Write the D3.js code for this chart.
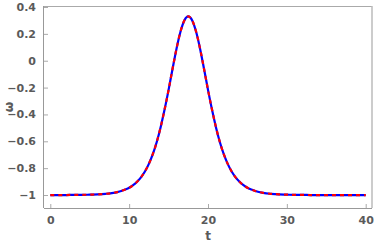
<!DOCTYPE html>
<html><head><meta charset="utf-8">
<script src="https://cdn.jsdelivr.net/npm/d3@7"></script>
<style>body{margin:0;background:#fff}svg{display:block}text{font-family:"DejaVu Sans",sans-serif}</style>
</head><body>
<script>
const tValues = [0,1,2,3,4,5,6,7,8,8.5,9,9.5,10,10.5,11,11.5,12,12.5,13,13.5,14,14.5,15,15.5,16,16.5,17,17.5,18,18.5,19,19.5,20,20.5,21,21.5,22,22.5,23,23.5,24,24.5,25,25.5,26,27,28,29,30,31,32,33,34,35,36,37,38,39,40];
const omegaValues = [-1.000,-1.000,-1.000,-0.999,-0.999,-0.997,-0.995,-0.991,-0.984,-0.978,-0.970,-0.959,-0.946,-0.927,-0.901,-0.868,-0.825,-0.768,-0.696,-0.605,-0.493,-0.362,-0.217,-0.062,0.088,0.214,0.300,0.330,0.300,0.214,0.088,-0.062,-0.217,-0.362,-0.493,-0.605,-0.696,-0.768,-0.825,-0.868,-0.901,-0.927,-0.946,-0.959,-0.970,-0.984,-0.991,-0.995,-0.997,-0.999,-0.999,-1.000,-1.000,-1.000,-1.000,-1.000,-1.000,-1.000,-1.000];
const xTicks = [0,10,20,30,40];
const yTicks = [0.4,0.2,0,-0.2,-0.4,-0.6,-0.8,-1];
const xLabel = "t";
const yLabel = "ω";

(function () {
const W = 374, H = 245;
const pL = 44, pR = 372, pT = 6, pB = 208;
const svg = d3.select("body").append("svg").attr("width", W).attr("height", H);
const x = d3.scaleLinear().domain([-0.8, 40.8]).range([pL, pR]);
const y = d3.scaleLinear().domain([-1.0966, 0.4]).range([pB, pT + 1]);

const fmt = v => (v < 0 ? "\u2212" : "") + Math.abs(v).toString();

svg.append("line").attr("x1", pL).attr("x2", pR).attr("y1", pT + 0.5).attr("y2", pT + 0.5).attr("stroke", "#aaa").attr("stroke-width", 1);
svg.append("line").attr("x1", pR).attr("x2", pR).attr("y1", pT).attr("y2", pB).attr("stroke", "#bbb").attr("stroke-width", 1.5);

const xAxis = d3.axisBottom(x).tickValues(xTicks).tickSizeInner(-4).tickSizeOuter(0).tickPadding(8).tickFormat(fmt);
const gx = svg.append("g").attr("transform", `translate(0,${pB})`).call(xAxis);
gx.select(".domain").attr("d", `M${pL},0.5H${pR}`).attr("stroke", "#999");
gx.selectAll(".tick line").attr("stroke", "#aaa");
gx.selectAll("text").attr("fill", "#5a5a5a").attr("font-size", 11).attr("font-weight", "bold");

const yAxis = d3.axisLeft(y).tickValues(yTicks).tickSizeInner(-4).tickSizeOuter(0).tickPadding(8).tickFormat(fmt);
const gy = svg.append("g").attr("transform", `translate(${pL},0)`).call(yAxis);
gy.select(".domain").attr("d", `M-0.5,${pT}V${pB}`).attr("stroke", "#999");
gy.selectAll(".tick line").attr("stroke", "#aaa");
gy.selectAll("text").attr("fill", "#5a5a5a").attr("font-size", 11).attr("font-weight", "bold");

svg.append("text").attr("x", (pL + pR) / 2).attr("y", 240).attr("text-anchor", "middle")
  .attr("fill", "#5a5a5a").attr("font-size", 12).attr("font-weight", "bold").text(xLabel);
svg.append("text").attr("transform", `translate(13,${(pT + pB) / 2}) rotate(-90)`).attr("text-anchor", "middle")
  .attr("fill", "#5a5a5a").attr("font-size", 12).attr("font-weight", "bold").text(yLabel);

const data = tValues.map((t, i) => [t, omegaValues[i]]);
const line = d3.line().x(d => x(d[0])).y(d => y(d[1])).curve(d3.curveMonotoneX);
svg.append("path").datum(data).attr("d", line).attr("fill", "none").attr("stroke", "#0000ff").attr("stroke-width", 2.2);
svg.append("path").datum(data).attr("d", line).attr("fill", "none").attr("stroke", "#ff0000").attr("stroke-width", 2.2).attr("stroke-dasharray", "4,4");
})();
</script>
</body></html>
